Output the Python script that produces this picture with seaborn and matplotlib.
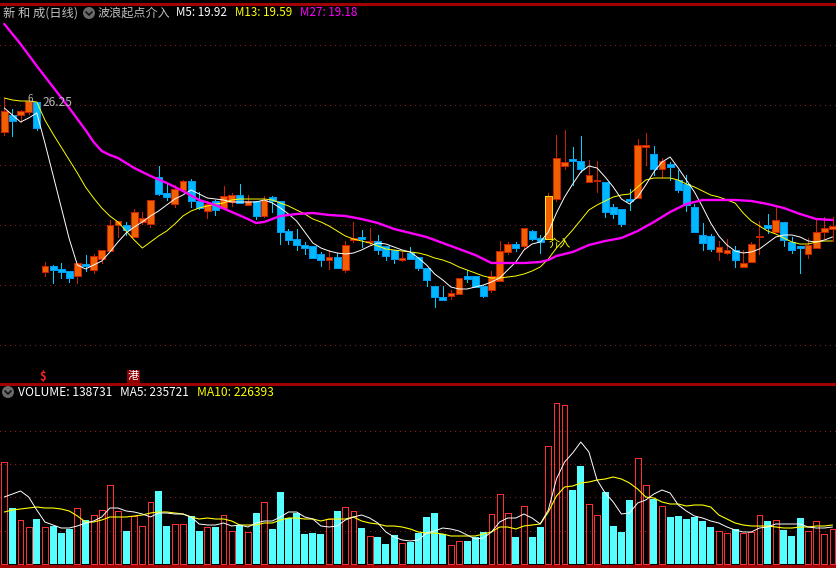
import matplotlib
matplotlib.use("Agg")
import matplotlib.pyplot as plt
from matplotlib.patches import Ellipse, Rectangle
from matplotlib.lines import Line2D
import numpy as np
import pandas as pd
import seaborn as sns

highs = [26.45,25.90,25.85,26.50,26.25,18.25,18.10,18.20,17.80,18.20,18.60,18.65,18.85,20.35,20.30,20.25,20.90,20.75,21.35,23.05,22.20,22.10,22.35,22.40,21.75,21.30,21.35,22.05,21.70,22.15,21.60,21.30,21.55,21.55,21.30,19.90,19.90,19.25,19.05,18.75,18.85,18.70,19.30,20.25,19.85,19.95,19.60,19.05,18.85,18.80,19.00,18.50,17.95,17.05,17.05,16.85,17.45,17.85,17.55,17.10,17.80,19.30,19.25,19.25,19.95,19.85,19.60,21.70,24.60,24.85,24.00,24.55,23.35,23.30,22.25,21.15,20.90,21.90,24.40,24.70,24.05,23.45,23.25,22.85,22.60,21.15,20.20,19.65,19.30,19.40,19.05,18.85,19.25,20.30,20.65,21.10,20.25,19.50,19.05,19.45,20.40,20.50,20.50]
tops = [25.80,25.60,25.80,26.30,26.25,18.05,18.05,17.90,17.80,18.20,18.15,18.55,18.85,20.10,20.30,20.10,20.75,20.45,21.35,22.50,21.70,21.90,22.30,22.30,21.30,21.15,21.30,21.55,21.60,21.60,21.30,21.30,21.35,21.50,21.30,19.80,19.40,19.10,19.05,18.65,18.50,18.50,19.10,19.45,19.50,19.30,19.30,19.05,18.85,18.45,18.70,18.50,17.95,17.05,16.50,16.70,17.45,17.55,17.55,17.05,17.55,18.80,19.15,19.15,19.95,19.80,19.45,21.55,23.45,23.25,23.40,23.30,22.60,22.35,22.25,21.00,20.90,21.40,24.10,24.10,23.65,23.30,23.15,22.35,22.15,21.00,19.60,19.55,19.00,18.85,18.85,18.20,19.15,19.55,20.10,20.35,20.25,19.25,19.05,19.10,19.75,19.95,20.05]
bottoms = [24.75,25.30,25.60,25.75,24.95,17.75,17.85,17.75,17.45,17.55,18.05,17.85,18.40,18.80,20.10,19.85,19.50,20.25,20.15,21.65,21.50,21.15,21.85,21.30,20.95,20.80,20.85,20.95,21.25,21.20,21.10,20.55,20.55,21.30,19.75,19.35,19.10,18.95,18.45,18.35,18.35,17.95,17.85,19.35,19.40,19.25,18.85,18.55,18.40,18.35,18.40,17.95,17.35,16.50,16.35,16.55,16.65,17.40,17.00,16.55,16.85,17.30,18.75,18.95,19.05,19.40,19.25,19.40,21.40,23.05,23.30,22.90,22.25,22.30,20.75,20.65,20.15,21.30,21.45,24.00,22.90,22.90,23.00,21.85,21.10,19.75,19.20,18.90,18.75,18.70,18.35,18.00,18.25,19.50,19.95,19.75,19.35,18.85,18.95,18.65,18.95,19.75,19.90]
lows = [24.60,24.55,25.25,25.65,24.85,17.55,17.20,17.45,17.25,17.20,17.80,17.70,18.20,18.80,19.50,19.60,19.50,20.15,20.00,21.60,21.35,21.00,21.80,21.00,20.90,20.45,20.60,20.95,21.05,21.20,21.10,20.40,20.50,20.75,19.15,19.15,18.85,18.65,18.45,18.05,17.90,17.95,17.75,19.25,19.00,19.15,18.65,18.35,18.20,18.30,18.40,17.85,17.05,16.00,16.35,16.40,16.65,17.25,17.00,16.50,16.75,17.30,18.65,18.80,18.95,19.35,18.70,19.40,21.30,22.90,22.10,22.75,22.25,21.75,20.50,20.45,20.05,20.85,21.45,23.10,22.60,22.50,22.35,21.75,20.80,19.75,18.85,18.80,18.35,18.65,18.00,18.00,18.25,18.65,19.70,19.75,19.05,18.70,17.70,18.45,18.95,19.45,19.30]
rising = [1,0,1,1,0,1,0,0,0,1,0,1,1,1,1,0,1,1,1,0,0,1,1,0,0,1,0,1,1,0,1,0,1,0,0,0,0,0,0,0,1,0,1,1,0,1,0,0,0,1,0,0,0,0,0,1,1,0,0,0,1,1,1,0,1,0,0,1,1,1,0,0,1,1,0,0,0,0,1,1,0,1,0,0,0,0,0,0,1,1,0,1,1,1,0,1,0,0,0,1,1,1,1]

m5 = [25.95,25.60,25.25,25.45,25.70,24.20,22.60,21.00,19.40,18.10,17.90,18.10,18.30,18.75,19.25,19.70,20.00,20.25,20.55,20.80,21.10,21.40,21.60,21.85,21.65,21.45,21.40,21.35,21.25,21.25,21.25,21.25,21.35,21.20,20.95,20.65,20.30,19.75,19.20,18.95,18.80,18.70,18.65,18.70,18.85,19.05,19.20,19.15,19.00,18.85,18.75,18.45,18.10,17.65,17.35,17.00,16.90,16.90,17.00,17.10,17.25,17.45,17.85,18.25,18.85,19.15,19.25,19.75,20.70,21.50,22.15,22.75,23.05,22.95,22.50,22.00,21.40,21.15,21.50,22.10,22.75,23.25,23.50,22.95,22.35,21.75,21.00,20.20,19.55,19.10,18.80,18.70,18.75,18.90,19.20,19.50,19.60,19.60,19.50,19.30,19.25,19.35,19.50]
m13 = [26.45,26.35,26.30,26.30,26.25,25.35,24.65,24.00,23.35,22.70,22.00,21.45,20.95,20.55,20.25,19.80,19.35,18.95,19.25,19.55,19.80,20.15,20.55,20.80,20.95,21.05,21.15,21.20,21.35,21.40,21.40,21.40,21.40,21.35,21.20,21.05,20.85,20.65,20.40,20.25,20.05,19.80,19.55,19.40,19.30,19.20,19.05,18.90,18.85,18.80,18.75,18.70,18.60,18.45,18.35,18.20,18.00,17.85,17.70,17.55,17.45,17.45,17.50,17.55,17.65,17.80,18.00,18.40,18.95,19.40,19.85,20.35,20.85,21.10,21.30,21.50,21.60,21.65,22.00,22.35,22.45,22.45,22.45,22.35,22.15,22.00,21.80,21.60,21.50,21.35,21.20,20.70,20.30,20.05,19.80,19.65,19.45,19.25,19.15,19.15,19.25,19.30,19.30]
m27_at = [0,2,4,6,8,9,10,11,12,13,14,16,18,20,22,24,26,28,30,31,32,34,36,38,40,42,44,46,48,50,52,54,56,58,60,62,64,66,67,68,70,72,74,76,78,80,82,84,86,88,90,92,94,96,98,100,102]
m27 = [30.15,29.15,28.05,27.00,25.95,25.40,24.85,24.25,23.80,23.60,23.45,22.95,22.55,22.20,21.80,21.35,21.10,20.75,20.40,20.20,20.25,20.55,20.65,20.70,20.60,20.55,20.40,20.20,19.90,19.70,19.50,19.20,18.90,18.60,18.20,18.20,18.20,18.25,18.35,18.55,18.75,19.10,19.30,19.45,19.80,20.25,20.75,21.15,21.35,21.35,21.35,21.30,21.15,20.95,20.65,20.40,20.35]

volume = [510,280,220,185,225,185,190,155,175,280,220,245,270,395,265,165,240,190,310,365,190,200,200,240,165,185,185,245,165,195,160,255,310,175,360,230,255,150,155,150,225,265,285,265,180,140,135,100,145,105,110,155,235,255,150,95,115,115,135,160,250,350,255,135,290,135,185,590,805,795,370,490,300,245,360,190,160,320,530,395,325,290,235,240,225,235,215,185,165,155,175,155,160,245,215,220,170,140,230,165,215,150,175]
vol_ma5 = [335,350,365,335,270,210,195,180,180,190,205,215,235,280,280,265,260,250,235,255,255,250,250,235,200,195,195,205,190,195,185,205,215,215,235,260,260,235,225,190,185,190,220,235,245,230,205,160,135,120,115,120,155,165,180,175,165,145,125,130,160,210,230,230,250,230,200,270,425,510,555,610,560,420,355,310,250,255,305,320,350,370,355,295,265,240,230,215,205,185,170,160,160,180,185,200,200,200,200,185,180,180,185]
vol_ma10 = [260,270,275,280,285,280,280,275,265,240,210,210,220,235,235,235,240,245,255,260,260,255,250,235,225,230,225,225,215,195,195,195,205,205,220,230,230,225,225,215,225,225,225,235,215,205,200,190,190,185,175,160,155,155,150,140,140,140,140,150,160,185,185,175,190,195,200,260,340,385,390,405,410,420,425,435,425,405,375,335,330,310,300,300,290,295,295,285,245,225,205,195,190,190,190,185,180,180,185,185,190,190,195]

price_grid = [29.10, 26.10, 23.10, 20.10, 17.10, 14.10]
vol_grid = [165, 335, 500, 665]
signal_bar = 67
n = len(highs)
days = np.arange(n)

UP_FILL, UP_EDGE, DOWN_FILL, DOWN_WICK = "#f06000", "#c82000", "#00b8ff", "#00d0ff"
GRID = "#8a1c1c"
FRAME = "#a00000"

sns.set_theme(style="dark", rc={"axes.facecolor": "black", "figure.facecolor": "black",
                                "lines.antialiased": False, "patch.antialiased": False})
plt.rcParams["font.family"] = ["Noto Sans CJK SC", "DejaVu Sans"]

W, H = 836, 568
fig = plt.figure(figsize=(W / 100, H / 100), dpi=100)
def box(top, bottom):
    return [0, 1 - bottom / H, 1, (bottom - top) / H]
ax = fig.add_axes(box(4, 383))
axv = fig.add_axes(box(384, 566))

for a in (ax, axv):
    a.set_facecolor("black")
    a.tick_params(left=False, bottom=False, labelleft=False, labelbottom=False)
    a.set_axisbelow(True)
    a.xaxis.grid(False)
    a.yaxis.grid(True, color=GRID, lw=0.72, linestyle=(0, (1, 4.5)))
    for s in ("left", "right"):
        a.spines[s].set_visible(False)
    for s in ("top", "bottom"):
        a.spines[s].set_color(FRAME)
        a.spines[s].set_linewidth(0.9)
ax.spines["bottom"].set_visible(False)

# candles
up = np.array(rising, bool)
hi, lo, tp, bt = map(np.array, (highs, lows, tops, bottoms))
ax.vlines(days[up], lo[up], hi[up], color=UP_EDGE, lw=0.6, zorder=2)
ax.vlines(days[~up], lo[~up], hi[~up], color=DOWN_WICK, lw=0.6, zorder=2)
ax.bar(days[up], (tp - bt)[up], bottom=bt[up], width=0.82, color=UP_FILL, edgecolor=UP_EDGE, lw=0.55, zorder=3)
ax.bar(days[~up], (tp - bt)[~up], bottom=bt[~up], width=0.86, color=DOWN_FILL, edgecolor="#0098f0", lw=0.4, zorder=3)
ax.bar([signal_bar], [tp[signal_bar] - bt[signal_bar]], bottom=[bt[signal_bar]], width=0.92,
       color=UP_FILL, edgecolor="#ffe000", lw=0.7, zorder=3.5)

# moving averages
sns.lineplot(x=days, y=m13, ax=ax, color="#ffff00", lw=0.7, estimator=None, sort=False, zorder=4, antialiased=True)
sns.lineplot(x=days, y=m5, ax=ax, color="#ffffff", lw=0.7, estimator=None, sort=False, zorder=5, antialiased=True)
sns.lineplot(x=m27_at, y=m27, ax=ax, color="#ff00ff", lw=1.7, estimator=None, sort=False, zorder=6, antialiased=True)
ax.set_xlim(-0.53, 102.43)
ax.set_ylim(12.2, 31.15)
ax.set_yticks(price_grid)
ax.set_xlabel(""); ax.set_ylabel("")

# volume
vdf = pd.DataFrame({"day": days, "vol": volume, "up": up})
sns.barplot(data=vdf[~vdf.up], x="day", y="vol", native_scale=True, ax=axv, color="#55ffff",
            saturation=1, width=0.86, linewidth=0, zorder=3)
sns.barplot(data=vdf[vdf.up], x="day", y="vol", native_scale=True, ax=axv, fill=False, color="#ff3030",
            saturation=1, width=0.72, linewidth=0.6, zorder=3)
sns.lineplot(x=days, y=vol_ma10, ax=axv, color="#ffff00", lw=0.8, estimator=None, sort=False, zorder=4, antialiased=True)
sns.lineplot(x=days, y=vol_ma5, ax=axv, color="#ffffff", lw=0.7, estimator=None, sort=False, zorder=5, antialiased=True)
axv.set_xlim(-0.53, 102.43)
axv.set_ylim(-10, 900)
axv.set_yticks(vol_grid)
axv.set_xlabel(""); axv.set_ylabel("")

def T(x, y, s, color, size=8.4, **kw):
    fig.text(x / W, 1 - y / H, s, color=color, fontsize=size, va="center", ha="left", **kw)

def icon(x, y):
    fig.add_artist(Ellipse((x / W, 1 - y / H), 12 / W, 12 / H, transform=fig.transFigure,
                           facecolor="#6a6a6a", edgecolor="none", antialiased=True))
    fig.add_artist(Line2D([(x - 3) / W, x / W, (x + 3) / W],
                          [1 - (y - 1) / H, 1 - (y + 2) / H, 1 - (y - 1) / H],
                          color="#111111", lw=1.2, antialiased=True))

T(3, 13, "新 和 成(日线)", "#c0c0c0", 8.8)
icon(89, 13)
T(98, 13, "波浪起点介入", "#c0c0c0", 8.7)
T(176, 13, "M5: 19.92", "#ffffff")
T(235, 13, "M13: 19.59", "#ffff00")
T(300, 13, "M27: 19.18", "#ff00ff")
T(27, 99, "6", "#b0b0b0", 7)
T(43, 103, "26.25", "#b8b8b8", 8.6)
T(549, 244, "介入", "#ffff00", 8)
T(39.5, 377, "$", "#ff2020", 8, fontweight="bold")
fig.add_artist(Rectangle((127 / W, 1 - 383 / H), 13 / W, 13 / H, transform=fig.transFigure,
                         facecolor="#8a0000", edgecolor="none"))
T(128, 376, "港", "#ffffff", 8)
icon(8, 392)
T(18, 392, "VOLUME: 138731", "#ffffff", 8.7)
T(120, 392, "MA5: 235721", "#ffffff", 8.5)
T(197, 392, "MA10: 226393", "#ffff00", 8.7)

fig.savefig("out.png", dpi=100, facecolor="black")
